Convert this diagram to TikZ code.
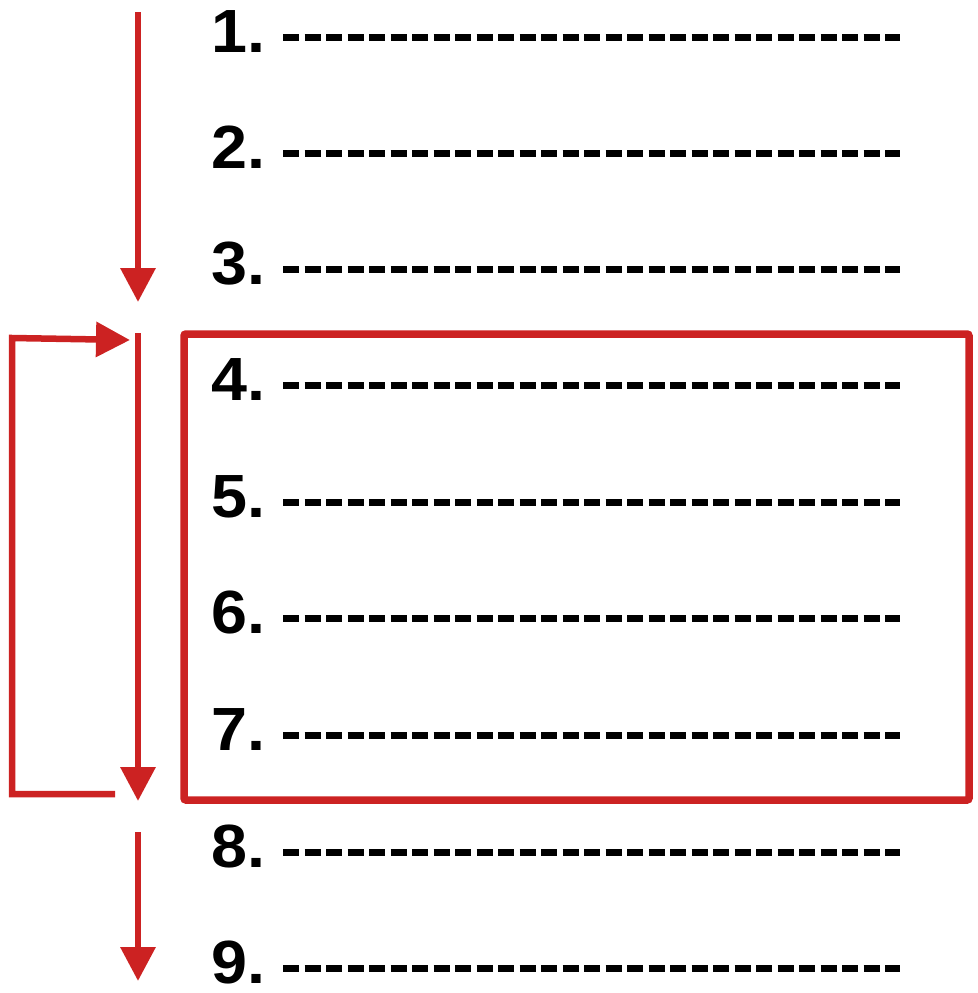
\documentclass[tikz,border=0pt]{standalone}
\usepackage{fontspec}
\setmainfont{Liberation Sans}
\usetikzlibrary{arrows.meta}
\definecolor{myred}{RGB}{204,34,34}
\begin{document}
\begin{tikzpicture}[x=1pt,y=-1pt,
  numlabel/.style={anchor=base west,inner sep=0pt,font=\fontsize{61}{72}\selectfont\bfseries},
  dashline/.style={line width=7pt,dash pattern=on 16pt off 5.5pt},
  redarrow/.style={draw=myred,line width=6.5pt,-{Triangle[length=34pt,width=34pt]},myred},
  redbox/.style={draw=myred,line width=7.5pt,rounded corners=2pt}]
\useasboundingbox (0,0) rectangle (977,993);
\foreach \i/\y in {1/37,2/153,3/269,4/385,5/502,6/618,7/735,8/852,9/968}{
  \node[numlabel,xscale=1.06] (n\i) at (211,\y+15.5) {\i.};
  \coordinate (ls\i) at (283,\y);
  \coordinate (le\i) at (900,\y);
  \draw[dashline] (ls\i) -- (le\i);
}
\coordinate (boxa) at (184,334);
\coordinate (boxb) at (969,800);
\draw[redbox] (boxa) rectangle (boxb);
\coordinate (a1s) at (138,12);
\coordinate (a1e) at (138,302);
\coordinate (a2s) at (138,333);
\coordinate (a2e) at (138,801);
\coordinate (a3s) at (138,832);
\coordinate (a3e) at (138,981);
\coordinate (ls) at (115,794);
\coordinate (lc1) at (12,794);
\coordinate (lc2) at (12,338);
\coordinate (le) at (130,340);
\draw[redarrow] (a1s) -- (a1e);
\draw[redarrow] (a2s) -- (a2e);
\draw[redarrow] (a3s) -- (a3e);
\draw[redarrow,line join=miter] (ls) -- (lc1) -- (lc2) -- (le);
\end{tikzpicture}
\end{document}
